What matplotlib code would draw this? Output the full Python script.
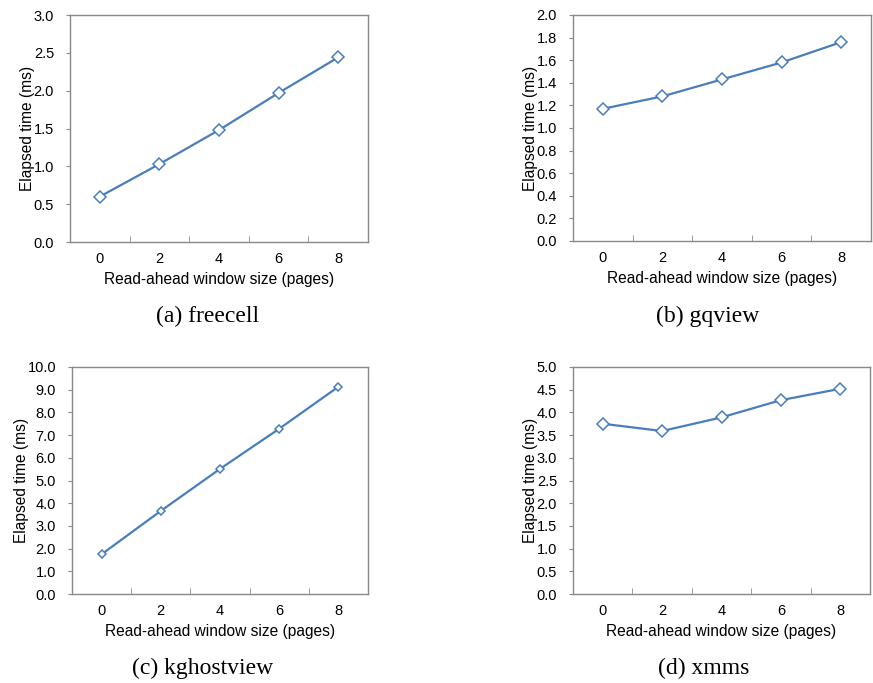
import numpy as np
import matplotlib
matplotlib.use("Agg")
import matplotlib.pyplot as plt

# read-ahead window sizes (pages) and elapsed time (ms) per application
window_sizes = ["0", "2", "4", "6", "8"]
freecell = [0.60, 1.03, 1.48, 1.97, 2.44]
gqview = [1.17, 1.28, 1.43, 1.58, 1.76]
kghostview = [1.75, 3.66, 5.51, 7.28, 9.13]
xmms = [3.75, 3.59, 3.89, 4.27, 4.52]

captions = ["(a) freecell", "(b) gqview", "(c) kghostview", "(d) xmms"]
series = [freecell, gqview, kghostview, xmms]
ylims = [(0, 3.0, 0.5), (0, 2.0, 0.2), (0, 10.0, 1.0), (0, 5.0, 0.5)]
marker_sizes = [6, 6, 4.5, 6]

W, H = 873, 683
# axes boxes in pixels: left, top, right, bottom
boxes = [(70, 15, 368, 242), (573, 15, 871, 241),
         (72, 367, 368, 594), (573, 367, 870, 594)]
caption_pos = [(208, 316), (708, 316), (203, 668), (704, 668)]

LINE = "#4A7EBB"
FRAME = "#898989"

plt.rcParams["font.family"] = ["Liberation Sans", "DejaVu Sans"]

fig = plt.figure(figsize=(W / 100, H / 100), dpi=100)

for i in range(4):
    l, t, r, b = boxes[i]
    ax = fig.add_axes([l / W, 1 - b / H, (r - l) / W, (b - t) / H])
    x = np.arange(len(window_sizes))
    ax.plot(x, series[i], color=LINE, lw=1.6, marker="D", ms=marker_sizes[i],
            mfc="white", mec=LINE, mew=1.1, zorder=3)

    lo, hi, step = ylims[i]
    ax.set_ylim(lo, hi)
    ticks = np.arange(lo, hi + step / 2, step)
    ax.set_yticks(ticks)
    ax.set_yticklabels(["%.1f" % v for v in ticks])
    ax.set_xlim(-0.5, len(window_sizes) - 0.5)
    ax.set_xticks(x)
    ax.set_xticklabels(window_sizes)
    ax.set_xticks(np.arange(0.5, len(window_sizes) - 1, 1.0), minor=True)

    ax.tick_params(axis="x", which="major", length=0, pad=7, labelsize=10.5)
    ax.tick_params(axis="x", which="minor", direction="in", length=4,
                   color=FRAME)
    ax.tick_params(axis="y", direction="out", length=3, color=FRAME,
                   pad=8.5, labelsize=10.5)
    for s in ax.spines.values():
        s.set_color(FRAME)
        s.set_linewidth(1.0)

    ax.set_xlabel("Read-ahead window size (pages)", fontsize=11.2, labelpad=4.5)
    ax.set_ylabel("Elapsed time (ms)", fontsize=11.2, labelpad=-1)

    cx, cy = caption_pos[i]
    fig.text(cx / W, 1 - cy / H, captions[i], ha="center", va="center",
             fontsize=17, family="Liberation Serif")

fig.savefig("out.png", dpi=100)
